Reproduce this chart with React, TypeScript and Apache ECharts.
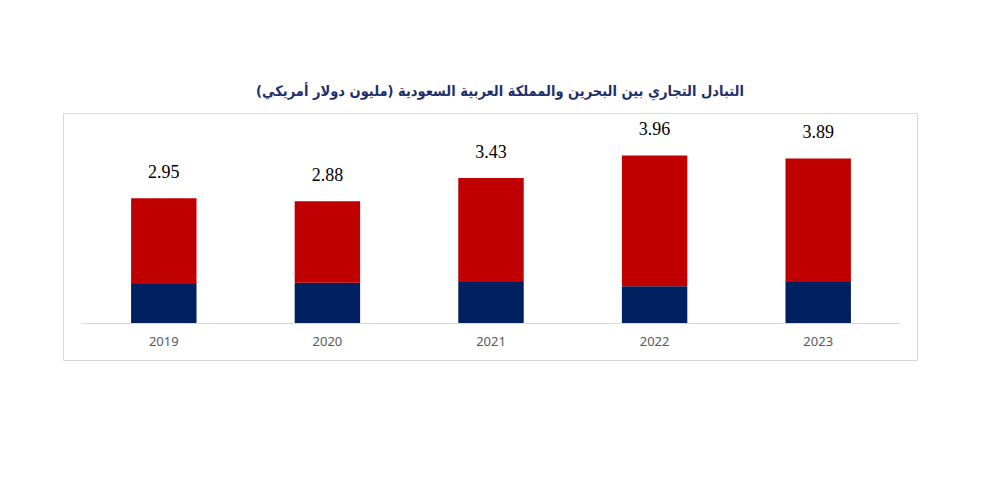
import React, { useEffect, useRef } from 'react'
import * as echarts from 'echarts'

const years = ['2019', '2020', '2021', '2022', '2023']
const saudiPart = [0.92, 0.95, 0.97, 0.87, 0.97]
const otherPart = [2.03, 1.93, 2.46, 3.09, 2.92]
const totals = ['2.95', '2.88', '3.43', '3.96', '3.89']

const title = 'التبادل التجاري بين البحرين والمملكة العربية السعودية (مليون دولار أمريكي)'

const App: React.FC = () => {
  const chartRef = useRef<HTMLDivElement>(null)

  useEffect(() => {
    if (!chartRef.current) return
    const chart = echarts.init(chartRef.current, undefined, { renderer: 'svg' })

    const option: echarts.EChartsOption = {
      animation: false,
      backgroundColor: '#ffffff',
      title: {
        text: title,
        left: 'center',
        top: 78,
        textStyle: {
          fontFamily: '"DejaVu Sans Condensed", "DejaVu Sans"',
          fontSize: 14.5,
          fontWeight: 'bold',
          color: '#1f2f6b'
        }
      },
      graphic: [
        {
          type: 'rect',
          shape: { x: 63.5, y: 113.5, width: 854, height: 247 },
          style: { fill: 'none', stroke: '#d9d9d9', lineWidth: 1 },
          silent: true,
          z: -1
        }
      ],
      grid: {
        left: 82,
        right: 100,
        top: 111.5,
        bottom: 180
      },
      xAxis: {
        type: 'category',
        data: years,
        axisLine: { lineStyle: { color: '#d9d9d9', width: 1 } },
        axisTick: { show: false },
        axisLabel: {
          color: '#595959',
          fontFamily: 'Noto Sans',
          fontSize: 13,
          margin: 11
        }
      },
      yAxis: {
        type: 'value',
        min: 0,
        max: 5,
        show: false,
        splitLine: { show: false }
      },
      series: [
        {
          name: 'saudi',
          type: 'bar',
          stack: 'total',
          barWidth: '40%',
          data: saudiPart,
          itemStyle: { color: '#002060' }
        },
        {
          name: 'other',
          type: 'bar',
          stack: 'total',
          barWidth: '40%',
          data: otherPart,
          itemStyle: { color: '#c00000' },
          label: {
            show: true,
            position: 'top',
            distance: 17,
            formatter: (p: any) => totals[p.dataIndex],
            fontFamily: 'Liberation Serif',
            fontSize: 18,
            color: '#000000'
          }
        }
      ]
    }

    chart.setOption(option)

    return () => {
      chart.dispose()
    }
  }, [])

  return (
    <div
      ref={chartRef}
      style={{ position: 'absolute', left: 0, top: 0, width: 1000, height: 503 }}
    />
  )
}

export default App
